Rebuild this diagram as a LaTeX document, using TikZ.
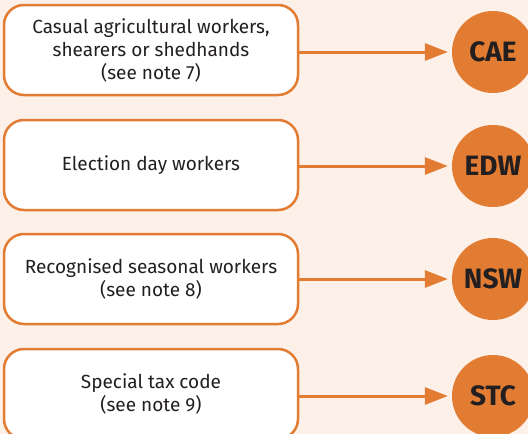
\documentclass[tikz,border=0pt]{standalone}
\usepackage{fontspec}
\setmainfont{Fira Sans}
\usetikzlibrary{arrows.meta}
\definecolor{bg}{HTML}{FCF0E8}
\definecolor{orng}{HTML}{E27C33}
\definecolor{ink}{HTML}{231F20}
\begin{document}
\begin{tikzpicture}[x=1pt,y=-1pt,
  box/.style={draw=orng,line width=2.5pt,fill=white,rounded corners=20pt,
    minimum width=294pt,minimum height=90pt,align=center,text=ink,
    font=\fontsize{19}{23}\selectfont,inner sep=0pt},
  code/.style={circle,fill=orng,minimum size=82pt,inner sep=0pt,text=ink,
    font=\fontsize{28}{28}\selectfont\bfseries},
  link/.style={draw=orng,line width=3pt,-{Triangle[length=23pt,width=17pt]}}]
\useasboundingbox (0,0) rectangle (528,434);
\fill[bg] (0,0) rectangle (528,434);
\begin{scope}
\clip (0,0) rectangle (528,434);
\node[box] (b1) at (151,50) {Casual agricultural workers,\\shearers or shedhands\\(see note 7)};
\node[box] (b2) at (151,165) {Election day workers};
\node[box] (b3) at (151,279) {Recognised seasonal workers\\(see note 8)};
\node[box] (b4) at (151,394) {Special tax code\\(see note 9)};
\node[code] (c1) at (493,52) {CAE};
\node[code] (c2) at (493,166) {EDW};
\node[code] (c3) at (493,279) {NSW};
\node[code] (c4) at (493,396) {STC};
\draw[link] (b1.east |- c1) -- ([xshift=-4pt]c1.west);
\draw[link] (b2.east |- c2) -- ([xshift=-4pt]c2.west);
\draw[link] (b3.east |- c3) -- ([xshift=-4pt]c3.west);
\draw[link] (b4.east |- c4) -- ([xshift=-4pt]c4.west);
\end{scope}
\end{tikzpicture}
\end{document}
